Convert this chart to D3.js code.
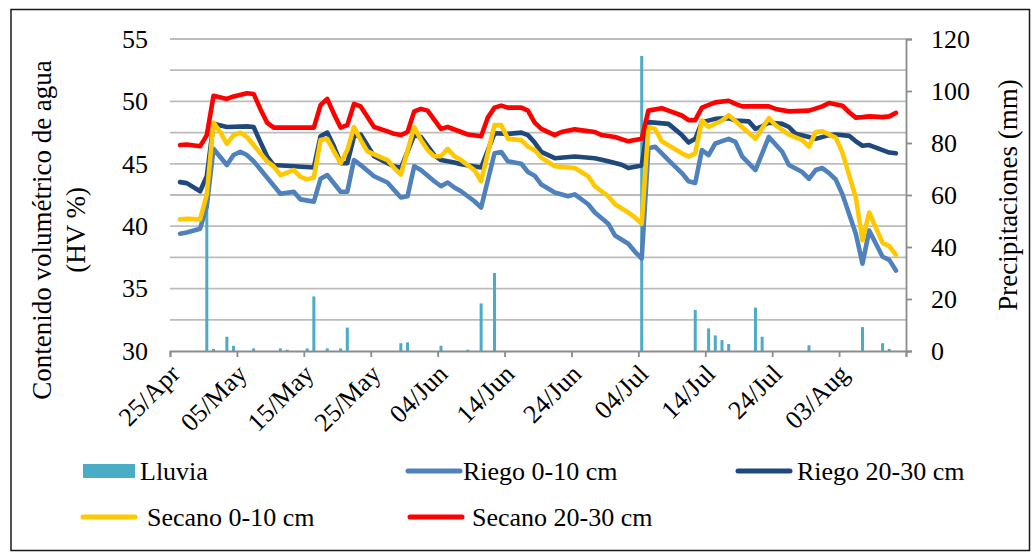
<!DOCTYPE html>
<html>
<head>
<meta charset="utf-8">
<script src="https://cdn.jsdelivr.net/npm/d3@7"></script>
<style>
  html, body { margin: 0; padding: 0; background: #ffffff; }
  svg { display: block; }
  text { font-family: "Liberation Serif", "Times New Roman", serif; fill: #000; }
</style>
</head>
<body>
<svg id="chart" width="1036" height="553"></svg>
<script>
// ---- data -------------------------------------------------------------
// x-axis tick labels (every 10 days)
const xTickLabels = ["25/Apr", "05/May", "15/May", "25/May", "04/Jun", "14/Jun",
                     "24/Jun", "04/Jul", "14/Jul", "24/Jul", "03/Aug"];
const leftTicks = [30, 35, 40, 45, 50, 55];
const rightTicks = [0, 20, 40, 60, 80, 100, 120];

// Lluvia: daily rainfall (mm), [month-day, mm]
const lluvia = [
  ["04-30", 60], ["05-01", 0.8], ["05-03", 5.5], ["05-04", 2], ["05-07", 1],
  ["05-11", 1], ["05-12", 0.5], ["05-15", 1], ["05-16", 21], ["05-18", 1],
  ["05-20", 1], ["05-21", 9], ["05-29", 3], ["05-30", 3.3], ["06-04", 2],
  ["06-08", 0.5], ["06-10", 18.3], ["06-12", 30], ["07-04", 113.5], ["07-12", 15.8],
  ["07-14", 8.7], ["07-15", 6], ["07-16", 4.2], ["07-17", 2.7], ["07-21", 16.7],
  ["07-22", 5.5], ["07-29", 2.2], ["08-06", 9.2], ["08-09", 3], ["08-10", 0.8]
];

// Riego 0-10 cm: volumetric water content (HV %)
const riego010 = [
  ["04-26", 39.4], ["04-27", 39.5], ["04-29", 39.8], ["04-30", 41.6], ["05-01", 46.2],
  ["05-03", 44.9], ["05-04", 45.7], ["05-05", 45.97], ["05-06", 45.7], ["05-07", 45.2],
  ["05-09", 43.9], ["05-11", 42.6], ["05-13", 42.76], ["05-14", 42.15], ["05-16", 41.97],
  ["05-17", 43.8], ["05-18", 44.1], ["05-20", 42.76], ["05-21", 42.76], ["05-22", 45.3],
  ["05-23", 44.9], ["05-25", 44.0], ["05-27", 43.5], ["05-28", 42.9], ["05-29", 42.3],
  ["05-30", 42.4], ["05-31", 44.8], ["06-01", 44.5], ["06-03", 43.6], ["06-04", 43.2],
  ["06-05", 43.5], ["06-06", 43.1], ["06-07", 42.8], ["06-09", 42.0], ["06-10", 41.5],
  ["06-12", 45.84], ["06-13", 45.95], ["06-14", 45.2], ["06-16", 45.0], ["06-17", 44.34],
  ["06-18", 44.05], ["06-19", 43.34], ["06-21", 42.7], ["06-23", 42.4], ["06-24", 42.55],
  ["06-26", 41.76], ["06-27", 41.1], ["06-29", 40.2], ["06-30", 39.26], ["07-02", 38.6],
  ["07-03", 37.95], ["07-04", 37.4], ["07-05", 46.24], ["07-06", 46.37], ["07-08", 45.3],
  ["07-10", 44.26], ["07-11", 43.6], ["07-12", 43.47], ["07-13", 46.1], ["07-14", 45.7],
  ["07-15", 46.63], ["07-17", 47.0], ["07-18", 46.76], ["07-19", 45.6], ["07-21", 44.5],
  ["07-23", 47.15], ["07-25", 45.97], ["07-26", 44.9], ["07-28", 44.34], ["07-29", 43.8],
  ["07-30", 44.5], ["07-31", 44.66], ["08-01", 44.26], ["08-02", 43.74], ["08-03", 42.55],
  ["08-05", 39.4], ["08-06", 37.0], ["08-07", 39.66], ["08-09", 37.55], ["08-10", 37.3],
  ["08-11", 36.45]
];

// Riego 20-30 cm
const riego2030 = [
  ["04-26", 43.53], ["04-27", 43.45], ["04-29", 42.8], ["04-30", 44.0], ["05-01", 48.2],
  ["05-03", 47.95], ["05-06", 48.0], ["05-07", 47.95], ["05-08", 46.76], ["05-09", 45.6],
  ["05-10", 44.9], ["05-13", 44.8], ["05-16", 44.7], ["05-17", 47.2], ["05-18", 47.5],
  ["05-19", 46.4], ["05-20", 45.05], ["05-21", 45.05], ["05-22", 47.2], ["05-23", 47.35],
  ["05-25", 45.6], ["05-27", 45.05], ["05-28", 44.8], ["05-29", 44.66], ["05-31", 47.3],
  ["06-01", 47.15], ["06-03", 45.7], ["06-04", 45.3], ["06-06", 45.1], ["06-07", 44.97],
  ["06-10", 44.7], ["06-12", 47.45], ["06-14", 47.4], ["06-16", 47.5], ["06-17", 47.3],
  ["06-18", 46.7], ["06-19", 45.95], ["06-21", 45.45], ["06-24", 45.58], ["06-27", 45.45],
  ["06-29", 45.2], ["07-01", 44.92], ["07-02", 44.66], ["07-04", 44.87], ["07-05", 48.34],
  ["07-08", 48.2], ["07-10", 47.3], ["07-11", 46.7], ["07-12", 47.0], ["07-13", 48.34],
  ["07-15", 48.6], ["07-17", 48.66], ["07-18", 48.47], ["07-20", 48.4], ["07-21", 47.8],
  ["07-22", 48.0], ["07-23", 48.3], ["07-25", 48.2], ["07-26", 47.95], ["07-27", 47.4],
  ["07-29", 47.15], ["07-30", 47.0], ["08-01", 47.3], ["08-02", 47.35], ["08-04", 47.24],
  ["08-05", 46.8], ["08-06", 46.45], ["08-07", 46.5], ["08-09", 46.1], ["08-10", 45.9],
  ["08-11", 45.84]
];

// Secano 0-10 cm
const secano010 = [
  ["04-26", 40.55], ["04-27", 40.6], ["04-29", 40.55], ["04-30", 42.55], ["05-01", 48.3],
  ["05-02", 47.55], ["05-03", 46.6], ["05-04", 47.3], ["05-05", 47.5], ["05-06", 47.15],
  ["05-07", 46.5], ["05-09", 45.2], ["05-10", 44.8], ["05-11", 44.1], ["05-13", 44.5],
  ["05-14", 43.95], ["05-15", 43.75], ["05-16", 43.9], ["05-17", 46.9], ["05-18", 47.0],
  ["05-19", 46.0], ["05-20", 45.05], ["05-21", 46.1], ["05-22", 47.95], ["05-23", 46.9],
  ["05-24", 46.0], ["05-27", 45.3], ["05-28", 44.66], ["05-29", 44.13], ["05-31", 47.95],
  ["06-01", 46.9], ["06-02", 46.1], ["06-03", 45.6], ["06-04", 45.6], ["06-05", 46.2],
  ["06-06", 45.6], ["06-07", 45.3], ["06-09", 44.5], ["06-10", 43.6], ["06-12", 48.1],
  ["06-13", 48.1], ["06-14", 47.0], ["06-16", 46.9], ["06-17", 46.37], ["06-18", 46.1],
  ["06-19", 45.5], ["06-21", 44.8], ["06-23", 44.7], ["06-24", 44.66], ["06-26", 44.0],
  ["06-27", 43.2], ["06-29", 42.4], ["06-30", 41.76], ["07-02", 41.1], ["07-03", 40.7],
  ["07-04", 40.2], ["07-05", 47.95], ["07-06", 47.8], ["07-07", 46.8], ["07-10", 45.84],
  ["07-11", 45.58], ["07-12", 45.84], ["07-13", 48.47], ["07-14", 47.95], ["07-16", 48.47],
  ["07-17", 48.9], ["07-19", 47.95], ["07-21", 47.0], ["07-23", 48.66], ["07-24", 48.1],
  ["07-26", 47.34], ["07-28", 46.9], ["07-29", 46.37], ["07-30", 47.55], ["07-31", 47.6],
  ["08-02", 47.1], ["08-03", 45.9], ["08-05", 42.3], ["08-06", 38.87], ["08-07", 41.1],
  ["08-09", 38.66], ["08-10", 38.4], ["08-11", 37.7]
];

// Secano 20-30 cm
const secano2030 = [
  ["04-26", 46.5], ["04-27", 46.55], ["04-29", 46.4], ["04-30", 47.3], ["05-01", 50.45],
  ["05-03", 50.2], ["05-04", 50.4], ["05-06", 50.66], ["05-07", 50.6], ["05-08", 49.4],
  ["05-09", 48.3], ["05-10", 47.9], ["05-16", 47.9], ["05-17", 49.7], ["05-18", 50.2],
  ["05-19", 49.0], ["05-20", 47.9], ["05-21", 48.1], ["05-22", 49.8], ["05-23", 49.6],
  ["05-25", 47.95], ["05-27", 47.6], ["05-28", 47.4], ["05-29", 47.3], ["05-30", 47.55],
  ["05-31", 49.2], ["06-01", 49.4], ["06-02", 49.26], ["06-04", 47.8], ["06-05", 47.95],
  ["06-06", 47.75], ["06-08", 47.35], ["06-10", 47.2], ["06-11", 48.7], ["06-12", 49.5],
  ["06-13", 49.66], ["06-14", 49.5], ["06-16", 49.5], ["06-17", 49.26], ["06-18", 48.3],
  ["06-19", 47.8], ["06-21", 47.3], ["06-22", 47.55], ["06-24", 47.76], ["06-27", 47.55],
  ["06-28", 47.3], ["06-30", 47.15], ["07-02", 46.8], ["07-04", 47.0], ["07-05", 49.26],
  ["07-07", 49.45], ["07-08", 49.26], ["07-10", 48.87], ["07-11", 48.5], ["07-12", 48.5],
  ["07-13", 49.5], ["07-15", 49.92], ["07-17", 50.05], ["07-18", 49.8], ["07-19", 49.6],
  ["07-21", 49.6], ["07-23", 49.6], ["07-24", 49.4], ["07-26", 49.2], ["07-29", 49.26],
  ["07-31", 49.6], ["08-01", 49.87], ["08-03", 49.66], ["08-04", 49.13], ["08-05", 48.7],
  ["08-06", 48.74], ["08-07", 48.8], ["08-09", 48.74], ["08-10", 48.8], ["08-11", 49.08]
];

// ---- setup ------------------------------------------------------------
const YEAR = "2013";
const parseMD = d3.utcParse("%Y-%m-%d");
const parseLabel = d3.utcParse("%d/%b/%Y");
const day = s => parseMD(YEAR + "-" + s);

const plot = { left: 170, right: 906, top: 39, bottom: 351 };
const FONT = 26;

const svg = d3.select("#chart");

const x = d3.scaleUtc()
  .domain([day("04-25"), day("08-13")])
  .range([plot.left, plot.right]);
// each observation sits in the middle of its day slot
const xc = d => x(d3.utcHour.offset(d, 12));

const yL = d3.scaleLinear().domain([30, 55]).range([plot.bottom, plot.top]);
const yR = d3.scaleLinear().domain([0, 120]).range([plot.bottom, plot.top]);

// outer frame
svg.append("rect")
  .attr("x", 11).attr("y", 9.5).attr("width", 1018.5).attr("height", 541)
  .attr("fill", "none").attr("stroke", "#1a1a1a").attr("stroke-width", 1.5);

// horizontal gridlines every 2.5 on the left axis
const gridVals = d3.range(32.5, 55.01, 2.5);
svg.append("g").selectAll("line").data(gridVals).join("line")
  .attr("x1", plot.left).attr("x2", plot.right)
  .attr("y1", d => yL(d)).attr("y2", d => yL(d))
  .attr("stroke", "#bcbcbc").attr("stroke-width", 1.8);

// rainfall bars
const barW = 3;
svg.append("g").selectAll("rect").data(lluvia).join("rect")
  .attr("x", d => xc(day(d[0])) - barW / 2)
  .attr("y", d => yR(d[1]))
  .attr("width", barW)
  .attr("height", d => yR(0) - yR(d[1]))
  .attr("fill", "#4BACC6");

// x axis
const tickDates = xTickLabels.map(l => parseLabel(l + "/" + YEAR)).concat([day("08-13")]);
const xAxis = d3.axisBottom(x).tickValues(tickDates).tickSize(6).tickFormat("");
const gx = svg.append("g").attr("transform", `translate(0,${plot.bottom})`).call(xAxis);
gx.select(".domain").attr("stroke", "#8c8c8c").attr("stroke-width", 1.8);
gx.selectAll(".tick line").attr("stroke", "#8c8c8c").attr("stroke-width", 1.8);

svg.append("g").selectAll("text").data(xTickLabels).join("text")
  .attr("transform", l => `translate(${x(parseLabel(l + "/" + YEAR)) + 5},${plot.bottom + 18}) rotate(-45)`)
  .attr("text-anchor", "end")
  .attr("dy", "0.35em")
  .style("font-size", FONT + "px")
  .text(l => l);

// left axis labels
const gl = svg.append("g").attr("transform", `translate(${plot.left},0)`)
  .call(d3.axisLeft(yL).tickValues(leftTicks).tickSize(0).tickPadding(22).tickFormat(d3.format("d")));
gl.select(".domain").remove();
gl.selectAll("text").style("font-size", FONT + "px").style("font-family", "'Liberation Serif', serif");

// right axis
const gr = svg.append("g").attr("transform", `translate(${plot.right},0)`)
  .call(d3.axisRight(yR).tickValues(rightTicks).tickSize(6).tickPadding(19).tickFormat(d3.format("d")));
gr.select(".domain").attr("stroke", "#8c8c8c").attr("stroke-width", 1.8);
gr.selectAll(".tick line").attr("stroke", "#8c8c8c").attr("stroke-width", 1.8);
gr.selectAll("text").style("font-size", FONT + "px").style("font-family", "'Liberation Serif', serif");

// axis titles
const lt = svg.append("text")
  .attr("transform", "translate(42,230) rotate(-90)")
  .attr("text-anchor", "middle")
  .style("font-size", "27px");
lt.append("tspan").attr("x", 0).attr("dy", "0.35em").text("Contenido volumétrico de agua");
lt.append("tspan").attr("x", 0).attr("dy", "1.25em").text("(HV %)");

svg.append("text")
  .attr("transform", "translate(1008,195) rotate(-90)")
  .attr("text-anchor", "middle")
  .attr("dy", "0.35em")
  .style("font-size", "27px")
  .text("Precipitaciones (mm)");

// soil moisture lines
const series = [
  { name: "Riego 0-10 cm",   data: riego010,   color: "#4F81BD" },
  { name: "Riego 20-30 cm",  data: riego2030,  color: "#1F497D" },
  { name: "Secano 0-10 cm",  data: secano010,  color: "#FFC800" },
  { name: "Secano 20-30 cm", data: secano2030, color: "#FF0000" }
];
const line = d3.line().x(d => xc(day(d[0]))).y(d => yL(d[1]));
svg.append("g").selectAll("path").data(series).join("path")
  .attr("d", s => line(s.data))
  .attr("fill", "none")
  .attr("stroke", s => s.color)
  .attr("stroke-width", 4.6)
  .attr("stroke-linejoin", "round")
  .attr("stroke-linecap", "round");

// legend
const legend = svg.append("g");
const legendItems = [
  { label: "Lluvia",          color: "#4BACC6", bar: true, x: 83,  y: 471, tx: 140 },
  { label: "Riego 0-10 cm",   color: "#4F81BD", x: 408, y: 471, tx: 463 },
  { label: "Riego 20-30 cm",  color: "#1F497D", x: 738, y: 471, tx: 797 },
  { label: "Secano 0-10 cm",  color: "#FFC800", x: 83,  y: 517, tx: 147 },
  { label: "Secano 20-30 cm", color: "#FF0000", x: 410, y: 517, tx: 472 }
];
legendItems.forEach(it => {
  if (it.bar) {
    legend.append("rect").attr("x", it.x).attr("y", it.y - 7).attr("width", 52).attr("height", 14)
      .attr("fill", it.color);
  } else {
    legend.append("line").attr("x1", it.x).attr("x2", it.x + 52).attr("y1", it.y).attr("y2", it.y)
      .attr("stroke", it.color).attr("stroke-width", 5).attr("stroke-linecap", "round");
  }
  legend.append("text").attr("x", it.tx).attr("y", it.y).attr("dy", "0.35em")
    .style("font-size", FONT + "px").text(it.label);
});
</script>
</body>
</html>
